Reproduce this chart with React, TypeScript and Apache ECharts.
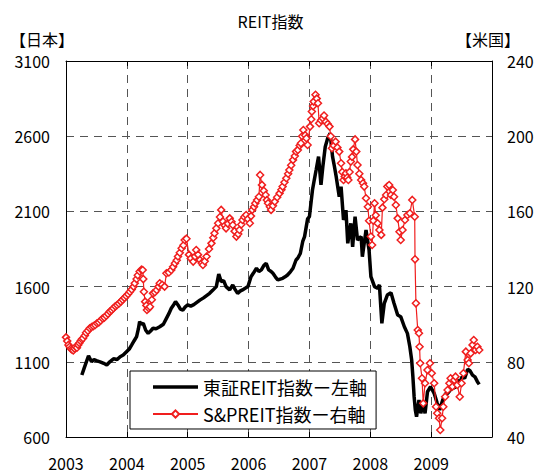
import React, { useEffect, useRef } from "react";
import * as echarts from "echarts";

const FONT = '"Noto Sans CJK JP", "Noto Sans", sans-serif';

const titleText = "REIT指数";
const leftAxisName = "【日本】";
const rightAxisName = "【米国】";
const seriesNames = ["東証REIT指数ー左軸", "S&PREIT指数ー右軸"];
const yearTicks = [2003, 2004, 2005, 2006, 2007, 2008, 2009, 2010];

// 東証REIT指数 (left axis)
const jpDates = [
  2003.26, 2003.3, 2003.37, 2003.42, 2003.46, 2003.5, 2003.56, 2003.62, 2003.67, 2003.72, 2003.78, 2003.84,
  2003.89, 2003.94, 2003.99, 2004.04, 2004.08, 2004.12, 2004.16, 2004.19, 2004.21, 2004.24, 2004.27, 2004.31,
  2004.35, 2004.39, 2004.43, 2004.48, 2004.54, 2004.6, 2004.65, 2004.69, 2004.73, 2004.77, 2004.8, 2004.84,
  2004.88, 2004.92, 2004.96, 2005.0, 2005.05, 2005.1, 2005.15, 2005.2, 2005.26, 2005.31, 2005.36, 2005.41,
  2005.47, 2005.51, 2005.55, 2005.59, 2005.63, 2005.69, 2005.74, 2005.78, 2005.82, 2005.86, 2005.9, 2005.95,
  2005.99, 2006.04, 2006.08, 2006.13, 2006.17, 2006.21, 2006.25, 2006.29, 2006.33, 2006.37, 2006.4, 2006.44,
  2006.48, 2006.52, 2006.56, 2006.6, 2006.64, 2006.69, 2006.73, 2006.78, 2006.81, 2006.85, 2006.89, 2006.92,
  2006.97, 2007.0, 2007.05, 2007.08, 2007.11, 2007.15, 2007.19, 2007.22, 2007.26, 2007.3, 2007.34, 2007.38,
  2007.41, 2007.44, 2007.49, 2007.52, 2007.56, 2007.6, 2007.63, 2007.68, 2007.71, 2007.75, 2007.79, 2007.85,
  2007.87, 2007.93, 2007.98, 2008.01, 2008.07, 2008.12, 2008.15, 2008.19, 2008.23, 2008.28, 2008.34, 2008.39,
  2008.45, 2008.5, 2008.56, 2008.61, 2008.65, 2008.68, 2008.7, 2008.72, 2008.74, 2008.76, 2008.8, 2008.83,
  2008.87, 2008.9, 2008.94, 2008.99, 2009.05, 2009.1, 2009.14, 2009.19, 2009.24, 2009.27, 2009.31, 2009.35,
  2009.39, 2009.43, 2009.47, 2009.51, 2009.55, 2009.6, 2009.64, 2009.68, 2009.72, 2009.76, 2009.79,
];
const jpValues = [
  1012, 1060, 1140, 1100, 1115, 1108, 1100, 1090, 1079, 1100, 1120, 1115,
  1134, 1145, 1165, 1185, 1212, 1240, 1267, 1320, 1367, 1350, 1356, 1310,
  1289, 1305, 1323, 1320, 1333, 1350, 1389, 1420, 1456, 1480, 1500, 1478,
  1450, 1444, 1465, 1478, 1470, 1480, 1495, 1510, 1525, 1540, 1555, 1575,
  1600, 1684, 1633, 1640, 1600, 1578, 1611, 1580, 1555, 1570, 1578, 1590,
  1600, 1666, 1690, 1722, 1700, 1711, 1740, 1755, 1711, 1700, 1688, 1665,
  1644, 1650, 1655, 1665, 1677, 1700, 1722, 1777, 1790, 1820, 1900, 1932,
  2050, 2065, 2242, 2310, 2375, 2464, 2276, 2397, 2530, 2586, 2619, 2464,
  2400, 2331, 2198, 2264, 2043, 2109, 1888, 2021, 1865, 2065, 1910, 1932,
  1799, 1976, 1843, 1666, 1600, 1589, 1611, 1356, 1489, 1544, 1560, 1489,
  1411, 1400, 1333, 1289, 1200, 1112, 1001, 870, 780, 735, 846, 757,
  824, 757, 901, 934, 890, 824, 780, 846, 890, 890, 910, 934,
  925, 979, 960, 1001, 990, 1050, 1040, 1012, 1000, 968, 950,
];

// S&P REIT指数 (right axis)
const usDates = [
  2003.0, 2003.02, 2003.04, 2003.06, 2003.08, 2003.1, 2003.12, 2003.14, 2003.16, 2003.18, 2003.2, 2003.22,
  2003.24, 2003.26, 2003.28, 2003.31, 2003.33, 2003.36, 2003.39, 2003.42, 2003.45, 2003.48, 2003.51, 2003.54,
  2003.57, 2003.6, 2003.63, 2003.66, 2003.69, 2003.72, 2003.75, 2003.78, 2003.81, 2003.84, 2003.87, 2003.9,
  2003.93, 2003.96, 2003.99, 2004.02, 2004.05, 2004.08, 2004.11, 2004.13, 2004.16, 2004.18, 2004.21, 2004.24,
  2004.26, 2004.27, 2004.28, 2004.3, 2004.32, 2004.33, 2004.36, 2004.38, 2004.41, 2004.43, 2004.46, 2004.49,
  2004.52, 2004.54, 2004.58, 2004.62, 2004.65, 2004.69, 2004.73, 2004.76, 2004.79, 2004.82, 2004.84, 2004.87,
  2004.9, 2004.93, 2004.95, 2004.98, 2005.02, 2005.05, 2005.09, 2005.12, 2005.14, 2005.17, 2005.2, 2005.23,
  2005.25, 2005.28, 2005.31, 2005.35, 2005.39, 2005.42, 2005.44, 2005.47, 2005.5, 2005.53, 2005.55, 2005.58,
  2005.61, 2005.63, 2005.66, 2005.69, 2005.72, 2005.74, 2005.77, 2005.8, 2005.83, 2005.85, 2005.88, 2005.9,
  2005.93, 2005.96, 2005.99, 2006.02, 2006.04, 2006.06, 2006.09, 2006.11, 2006.14, 2006.17, 2006.19, 2006.22,
  2006.25, 2006.28, 2006.3, 2006.32, 2006.35, 2006.37, 2006.4, 2006.43, 2006.47, 2006.51, 2006.54, 2006.56,
  2006.59, 2006.62, 2006.65, 2006.67, 2006.7, 2006.73, 2006.76, 2006.78, 2006.81, 2006.84, 2006.86, 2006.88,
  2006.9, 2006.93, 2006.95, 2006.97, 2007.01, 2007.03, 2007.04, 2007.06, 2007.07, 2007.1, 2007.12, 2007.14,
  2007.16, 2007.19, 2007.22, 2007.24, 2007.27, 2007.3, 2007.33, 2007.35, 2007.37, 2007.4, 2007.43, 2007.46,
  2007.49, 2007.52, 2007.54, 2007.56, 2007.58, 2007.6, 2007.62, 2007.64, 2007.66, 2007.68, 2007.7, 2007.72,
  2007.75, 2007.77, 2007.79, 2007.82, 2007.85, 2007.88, 2007.9, 2007.93, 2007.96, 2007.98, 2008.01, 2008.03,
  2008.05, 2008.07, 2008.09, 2008.12, 2008.15, 2008.18, 2008.2, 2008.23, 2008.26, 2008.28, 2008.31, 2008.34,
  2008.37, 2008.39, 2008.42, 2008.45, 2008.48, 2008.5, 2008.53, 2008.57, 2008.61, 2008.65, 2008.69, 2008.73,
  2008.735, 2008.75, 2008.78, 2008.8, 2008.81, 2008.82, 2008.85, 2008.87, 2008.9, 2008.94, 2008.98, 2009.01,
  2009.05, 2009.08, 2009.1, 2009.13, 2009.15, 2009.18, 2009.2, 2009.23, 2009.27, 2009.3, 2009.32, 2009.35,
  2009.38, 2009.4, 2009.43, 2009.47, 2009.5, 2009.53, 2009.57, 2009.6, 2009.62, 2009.65, 2009.68, 2009.7,
  2009.73, 2009.76, 2009.79,
];
const usValues = [
  93, 91, 89, 88, 87, 86.5, 86, 87, 88, 87.5, 89, 90,
  91, 92, 92.5, 94, 95.5, 96.5, 97.8, 98.5, 99, 99.6, 100.5, 101,
  102, 103, 103.5, 104.5, 105.5, 106.7, 107.5, 108.5, 109.5, 110.2, 111, 112,
  113, 114, 115, 116, 117.3, 118.5, 120, 121.8, 124, 126, 128, 129,
  128.8, 124, 117.3, 112, 110, 107.6, 108.5, 109.3, 113, 116.4, 117, 118.2,
  120, 121.8, 121, 120, 127.1, 127.5, 128.8, 130.5, 132.4, 134, 136, 138,
  140.4, 142, 144.8, 145.5, 137, 135, 133.3, 136, 139.5, 137, 134.2, 132.5,
  131.5, 133.5, 136, 140, 143, 146, 148.4, 151, 153.7, 157, 160.8, 154.6,
  152.5, 151, 153.5, 156.3, 154.5, 152.8, 149.5, 146.6, 148, 150.1, 153, 155.4,
  157, 158.1, 156, 153.7, 157.5, 160.8, 162.5, 164.3, 166, 167.8, 179.4, 174.1,
  171, 168.7, 166, 164.3, 162.5, 160.8, 163, 165.2, 167.5, 169.6, 171.5, 173.2,
  175.5, 177.6, 180, 182, 184.5, 187.4, 189.5, 191.8, 192.7, 195, 196.2, 200,
  203.3, 200.5, 198.9, 195.3, 205.1, 209, 213.1, 216, 218.4, 222, 220, 217.5,
  206.9, 208.5, 209.5, 211, 207.7, 206.5, 205.1, 200, 193.6, 195, 197.1, 194,
  191.8, 185.6, 181, 176.7, 178.5, 180.3, 178, 176.7, 181, 186.5, 189, 193,
  198.3, 191.8, 184.7, 180, 176.7, 175, 173.2, 167, 162.5, 155, 146.6, 142.1,
  155, 164.3, 158, 153.7, 150.1, 147.5, 162, 166.5, 168.7, 173.2, 174, 168.7,
  171.4, 167.8, 163.4, 156.3, 149.2, 144.8, 150.1, 155.4, 158.1, 159, 166.1, 157.2,
  134.5, 111.1, 96.9, 95.2, 88, 79.2, 71.2, 57.9, 68.6, 75.6, 79.2, 73.9,
  68.6, 56.1, 52.6, 50, 43.7, 50, 56.1, 61.4, 65, 68.6, 71.2, 66.8,
  70.3, 72.1, 67.7, 61.4, 68.6, 73.9, 85.4, 81, 79.2, 84.5, 89, 91.6,
  86.3, 88, 86.3,
];

const RED = "#f01e1e";

export default function App() {
  const ref = useRef<HTMLDivElement>(null);
  useEffect(() => {
    document.body.style.margin = "0";
    if (!ref.current) return;
    const chart = echarts.init(ref.current, undefined, { renderer: "svg" });
    const gridLine = { show: true, lineStyle: { color: "#555", type: [8, 6] as any, width: 1 } };
    const axisLineBlack = { show: true, lineStyle: { color: "#000", width: 1 } };
    const plainLabel = (v: number) => String(v);
    chart.setOption({
      animation: false,
      backgroundColor: "#fff",
      textStyle: { fontFamily: FONT },
      title: {
        text: titleText,
        left: "center",
        top: 8,
        textStyle: { fontSize: 16, fontWeight: "normal", color: "#000", fontFamily: FONT },
      },
      graphic: [
        { type: "text", left: 10, top: 31, style: { text: leftAxisName, fontSize: 16, fill: "#000", fontFamily: FONT } },
        { type: "text", right: 21, top: 31, style: { text: rightAxisName, fontSize: 16, fill: "#000", fontFamily: FONT } },
      ],
      grid: { left: 66, right: 49, top: 61, bottom: 37, containLabel: false },
      legend: {
        orient: "vertical",
        left: 130,
        top: 371,
        padding: [7, 9, 6, 22],
        itemGap: 9,
        itemWidth: 45,
        itemHeight: 9,
        backgroundColor: "#fff",
        borderColor: "#000",
        borderWidth: 1,
        textStyle: { fontSize: 18, color: "#000", fontFamily: FONT },
        data: [
          { name: seriesNames[0], icon: "path://M0,0 L45,0 L45,3.5 L0,3.5 Z", itemStyle: { color: "#000" } },
          { name: seriesNames[1] },
        ],
      },
      xAxis: [
        {
          type: "value",
          min: yearTicks[0],
          max: yearTicks[yearTicks.length - 1],
          interval: 1,
          position: "bottom",
          axisLine: axisLineBlack,
          axisTick: { show: true, inside: true, length: 5, lineStyle: { color: "#000" } },
          axisLabel: {
            margin: 18,
            fontSize: 16,
            color: "#000",
            fontFamily: FONT,
            showMaxLabel: false,
            formatter: (v: number) => (v === yearTicks[yearTicks.length - 1] ? "" : String(v)),
          },
          splitLine: gridLine,
        },
        {
          type: "value",
          min: yearTicks[0],
          max: yearTicks[yearTicks.length - 1],
          interval: 1,
          position: "top",
          axisLine: axisLineBlack,
          axisTick: { show: true, inside: true, length: 5, lineStyle: { color: "#000" } },
          axisLabel: { show: false },
          splitLine: { show: false },
        },
      ],
      yAxis: [
        {
          type: "value",
          min: 600,
          max: 3100,
          interval: 500,
          position: "left",
          axisLine: axisLineBlack,
          axisTick: { show: false },
          axisLabel: { margin: 16, fontSize: 16, color: "#000", fontFamily: FONT, formatter: plainLabel },
          splitLine: gridLine,
        },
        {
          type: "value",
          min: 40,
          max: 240,
          interval: 40,
          position: "right",
          axisLine: axisLineBlack,
          axisTick: { show: false },
          axisLabel: { margin: 15, fontSize: 16, color: "#000", fontFamily: FONT, formatter: plainLabel },
          splitLine: { show: false },
        },
      ],
      series: [
        {
          name: seriesNames[0],
          type: "line",
          xAxisIndex: 0,
          yAxisIndex: 0,
          symbol: "none",
          data: jpDates.map((d, i) => [d, jpValues[i]]),
          lineStyle: { color: "#000", width: 3.5 },
          itemStyle: { color: "#000" },
          z: 2,
        },
        {
          name: seriesNames[1],
          type: "line",
          xAxisIndex: 0,
          yAxisIndex: 1,
          symbol: "diamond",
          symbolSize: 7,
          showSymbol: true,
          data: usDates.map((d, i) => [d, usValues[i]]),
          lineStyle: { color: RED, width: 1.2 },
          itemStyle: { color: "#fff", borderColor: RED, borderWidth: 1.5 },
          z: 3,
        },
      ],
    });
    return () => chart.dispose();
  }, []);
  return <div ref={ref} style={{ width: 541, height: 474 }} />;
}
